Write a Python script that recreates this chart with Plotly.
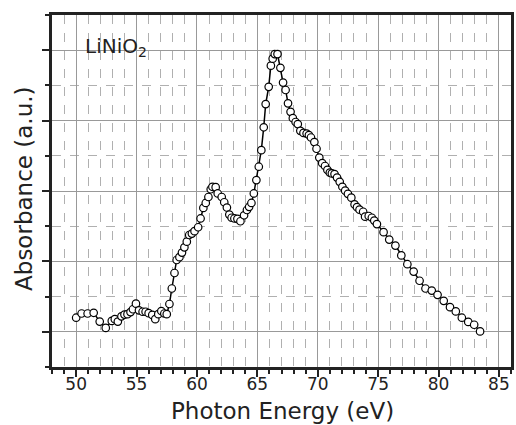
import plotly.graph_objects as go

energy = [50.0, 50.45, 50.95, 51.45, 51.95, 52.45, 52.95, 53.2, 53.45, 53.75,
          54.0, 54.25, 54.5, 54.7, 54.95, 55.2, 55.5, 55.75, 56.0, 56.3,
          56.55, 56.8, 57.05, 57.3, 57.5, 57.72, 57.92, 58.14, 58.32, 58.55,
          58.76, 58.96, 59.16, 59.36, 59.58, 59.8, 60.1, 60.3, 60.53, 60.73,
          60.95, 61.14, 61.28, 61.55, 61.72, 62.05, 62.26, 62.48, 62.68, 62.87,
          63.1, 63.35, 63.6, 63.9, 64.14, 64.32, 64.51, 64.71, 64.92, 65.12,
          65.33, 65.53, 65.69, 65.94, 66.12, 66.27, 66.44, 66.67, 66.91, 67.13,
          67.34, 67.54, 67.75, 67.94, 68.17, 68.35, 68.56, 68.82, 69.08, 69.27,
          69.44, 69.72, 69.9, 70.13, 70.37, 70.6, 70.8, 71.0, 71.17, 71.39,
          71.6, 71.82, 72.04, 72.27, 72.5, 72.78, 73.05, 73.25, 73.46, 73.76,
          73.92, 74.22, 74.48, 74.68, 74.9, 75.45, 75.92, 76.43, 76.92, 77.42,
          77.94, 78.43, 78.92, 79.44, 79.92, 80.43, 80.95, 81.43, 81.93, 82.46,
          82.95, 83.44]

absorbance = [1.40, 1.52, 1.52, 1.54, 1.29, 1.11, 1.31, 1.36, 1.29, 1.44,
              1.49, 1.50, 1.56, 1.64, 1.80, 1.61, 1.57, 1.57, 1.53, 1.48,
              1.36, 1.50, 1.59, 1.52, 1.50, 1.79, 2.23, 2.67, 3.04, 3.12,
              3.25, 3.40, 3.56, 3.75, 3.79, 3.86, 3.97, 4.22, 4.52, 4.66,
              4.83, 5.05, 5.12, 5.11, 4.93, 4.83, 4.68, 4.53, 4.33, 4.24,
              4.22, 4.21, 4.14, 4.31, 4.46, 4.55, 4.66, 4.93, 5.31, 5.69,
              6.16, 6.81, 7.47, 7.96, 8.56, 8.76, 8.89, 8.89, 8.50, 8.08,
              7.87, 7.49, 7.25, 7.07, 6.96, 6.90, 6.71, 6.65, 6.63, 6.59,
              6.52, 6.39, 6.20, 5.95, 5.79, 5.71, 5.60, 5.52, 5.50, 5.48,
              5.38, 5.26, 5.12, 5.01, 4.92, 4.81, 4.62, 4.54, 4.47, 4.41,
              4.27, 4.29, 4.24, 4.16, 4.06, 3.83, 3.62, 3.45, 3.17, 2.92,
              2.71, 2.45, 2.23, 2.17, 2.05, 1.88, 1.70, 1.58, 1.40, 1.28,
              1.20, 1.01]

x_tick_vals = [50, 55, 60, 65, 70, 75, 80, 85]
x_tick_text = ["50", "55", "60", "65", "70", "75", "80", "85"]

FONT = "DejaVu Sans"

fig = go.Figure()
fig.add_trace(go.Scatter(
    x=energy, y=absorbance, mode="lines+markers",
    line=dict(color="black", width=1.5),
    marker=dict(symbol="circle", size=7.5, color="white",
                line=dict(color="black", width=1.2)),
    showlegend=False,
))

grid_major = "#999999"
grid_minor = "#b0b0b0"

fig.update_xaxes(
    range=[48, 86], tickvals=x_tick_vals, ticktext=x_tick_text,
    ticks="outside", ticklen=7, tickwidth=2, tickcolor="#222",
    ticklabelstandoff=-7,
    showline=True, linecolor="#222", linewidth=2.5, mirror=True,
    showgrid=True, gridcolor=grid_major, gridwidth=1,
    zeroline=False,
    tickfont=dict(family=FONT, size=17, color="#222"),
    minor=dict(dtick=1, tick0=0, ticks="outside", ticklen=4, tickwidth=2,
               tickcolor="#222", showgrid=True, gridcolor=grid_minor,
               griddash="dash", gridwidth=1),
)
fig.update_yaxes(
    range=[0, 10], tick0=1, dtick=2, showticklabels=False,
    ticks="outside", ticklen=7, tickwidth=2, tickcolor="#222",
    showline=True, linecolor="#222", linewidth=2.5, mirror=True,
    showgrid=True, gridcolor=grid_major, gridwidth=1,
    zeroline=False,
    minor=dict(dtick=1, tick0=0, ticks="outside", ticklen=4, tickwidth=2,
               tickcolor="#222", showgrid=True, gridcolor=grid_minor,
               griddash="dash", gridwidth=1),
)

fig.update_layout(
    width=516, height=425,
    margin=dict(l=52, r=2, t=15, b=58),
    paper_bgcolor="white", plot_bgcolor="white",
    font=dict(family=FONT, color="#222"),
    annotations=[
        dict(text="Photon Energy (eV)", xref="paper", yref="paper",
             x=0.503, y=-0.124, xanchor="center", yanchor="middle",
             showarrow=False, font=dict(family=FONT, size=23, color="#222")),
        dict(text="Absorbance (a.u.)", xref="paper", yref="paper",
             x=-0.0625, y=0.5067, xanchor="center", yanchor="middle",
             textangle=-90, showarrow=False,
             font=dict(family=FONT, size=23, color="#222")),
        dict(text="LiNiO<sub>2</sub>", xref="paper", yref="paper",
             x=0.068, y=0.908, xanchor="left", yanchor="middle",
             showarrow=False, font=dict(family=FONT, size=20, color="#222")),
    ],
)

fig.write_html("out.html")
